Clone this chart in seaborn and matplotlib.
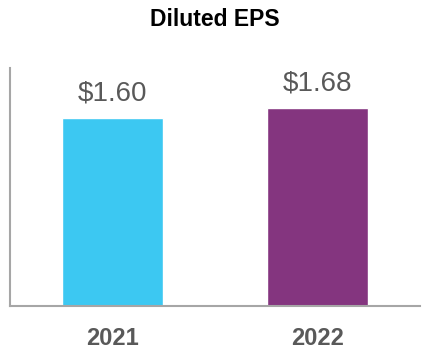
import matplotlib
matplotlib.use("Agg")
import matplotlib.pyplot as plt
import seaborn as sns
import pandas as pd

# data
years = ["2021", "2022"]
eps = [1.60, 1.68]
bar_colors = ["#3CC8F2", "#84357F"]
value_labels = ["$1.60", "$1.68"]

sns.set_style("white")
plt.rcParams["font.family"] = ["Liberation Sans", "DejaVu Sans"]

df = pd.DataFrame({"year": years, "eps": eps})

fig = plt.figure(figsize=(4.3, 3.6), dpi=100)
ax = fig.add_axes([0.023, 0.15, 0.954, 0.661])

sns.barplot(data=df, x="year", y="eps", hue="year", palette=bar_colors,
            width=0.49, legend=False, ax=ax, saturation=1)

for i, (v, lab) in enumerate(zip(eps, value_labels)):
    ax.annotate(lab, (i, v), xytext=(0, 8), textcoords="offset points",
                ha="center", va="bottom", fontsize=20, color="#595959")

ax.set_xlim(-0.5, 1.5)
ax.set_ylim(0, 2.02)
ax.set_yticks([])
ax.set_xlabel("")
ax.set_ylabel("")
ax.tick_params(axis="x", length=0, pad=15)
for t in ax.get_xticklabels():
    t.set_fontsize(17)
    t.set_fontweight("bold")
    t.set_color("#595959")

for side in ["top", "right"]:
    ax.spines[side].set_visible(False)
for side in ["left", "bottom"]:
    ax.spines[side].set_color("#A6A6A6")
    ax.spines[side].set_linewidth(1.5)

fig.text(0.5, 0.945, "Diluted EPS", ha="center", va="center",
         fontsize=16.5, fontweight="bold", color="black")

fig.savefig("out.png", dpi=100)
